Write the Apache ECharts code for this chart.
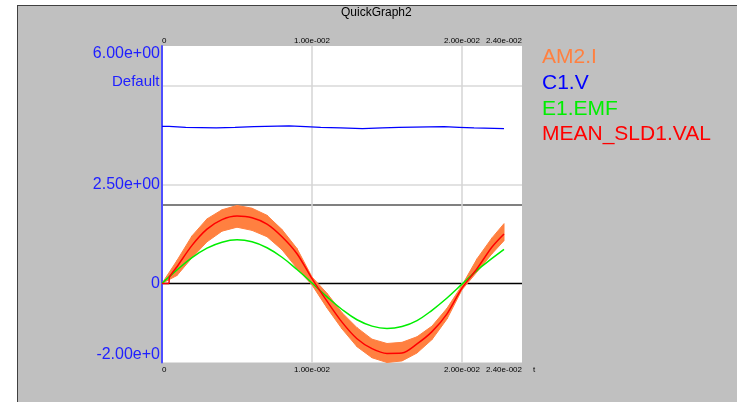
<!DOCTYPE html>
<html><head><meta charset="utf-8">
<script src="https://cdn.jsdelivr.net/npm/echarts@6/dist/echarts.min.js"></script>
<style>
html,body{margin:0;padding:0;background:#fff;}
#panel{position:absolute;left:17px;top:5px;width:720px;height:397px;background:#c0c0c0;border-top:1px solid #404040;border-left:1px solid #404040;box-sizing:border-box;}
#c{position:absolute;left:0;top:0;width:737px;height:402px;}
</style>
</head><body>
<div id="panel"></div>
<div id="c"></div>
<script>
// ---- data ----
const titleText = 'QuickGraph2';
const seriesNames = ['AM2.I', 'C1.V', 'E1.EMF', 'MEAN_SLD1.VAL'];
const times = [0,0.001,0.002,0.003,0.004,0.005,0.006,0.007,0.008,0.009,0.010,0.011,0.012,0.013,0.014,0.015,0.016,0.017,0.018,0.019,0.020,0.021,0.022,0.0228];
const am2Upper = [0,58,120,163,186,197,190,172,136,88,16,-25,-74,-112,-141,-152,-149,-135,-108,-63,-5,62,115,151];
const am2Lower = [0,20,65,105,132,142,134,118,85,38,-4,-62,-115,-160,-188,-200,-196,-176,-142,-90,-16,29,75,108];
const e1Emf = [0,34,65,89,104,110,105,90,66,35,1,-34,-66,-92,-108,-114,-109,-94,-68,-37,-2,33,63,86];
const sldTimes = [0,0.00045,0.0005,0.001,0.002,0.003,0.004,0.005,0.006,0.007,0.008,0.009,0.010,0.011,0.012,0.013,0.014,0.015,0.016,0.017,0.018,0.019,0.020,0.021,0.022,0.0228];
const meanSld1 = [0,0,16,42,96,137,161,170,166,150,118,75,12,-45,-98,-140,-165,-177,-176,-153,-122,-77,-12,37,92,125];
const c1vTimes = [0,0.00047,0.00158,0.00362,0.00487,0.00613,0.00847,0.00958,0.01058,0.01191,0.01336,0.01469,0.0158,0.0188,0.0198,0.0208,0.0228];
const c1vValues = [397,394.5,392.9,394.5,396.2,397.9,396.2,394.5,392.9,391.2,392.9,394.5,396.2,394.5,392.9,391.2,391.2];
const yLabelMid = [250, 0];
const yLabelTop = [600];
const yLabelBottom = [-200];
const yLightGrid = [250, 500];
const yZeroLine = [0];
const yDarkLine = [200];
const xMin = 0, xMax = 0.024, xStep = 0.01;
const yMin = -200, yMax = 600, yStep = 50;
const axisName = 't';
const defaultLabel = 'Default';

// ---- styles ----
const colors = {am2: '#ff8040', c1v: '#0000ff', emf: '#00ee00', sld: '#ff0000'};
const legendColors = ['#ff8040', '#0000ff', '#00ee00', '#ff0000'];
const labelBlue = '#2020ff';
const FONT = "'Liberation Sans', Arial, sans-serif";

function sci(v) {
  if (Math.abs(v) < 1e-12) return '0';
  const s = v.toExponential(2);
  const parts = s.split('e');
  const n = parseInt(parts[1], 10);
  return parts[0] + 'e' + (n < 0 ? '-' : '+') + String(Math.abs(n)).padStart(3, '0');
}

const yTicks = [];
for (let v = yMin; v <= yMax + 1e-9; v += yStep) yTicks.push(v);
const T = 'rgba(0,0,0,0)';
const lineColors = (vals, c) => yTicks.map(v => vals.indexOf(v) >= 0 ? c : T);

const yBase = {
  type: 'value', min: yMin, max: yMax, interval: yStep, position: 'left',
  axisTick: {show: false}, axisLine: {show: false, onZero: false}, splitLine: {show: false}
};
const yLab = {
  color: labelBlue, fontSize: 16, fontFamily: FONT, margin: 2,
  width: 73, overflow: 'truncate', ellipsis: ''
};
const xLab = {
  color: '#000', fontSize: 8, fontFamily: FONT, formatter: sci,
  alignMinLabel: 'left', alignMaxLabel: 'right'
};

// band segments: [t0, upper0, lower0, t1, upper1, lower1]
const bandData = times.slice(0, -1).map((t, i) =>
  [t, am2Upper[i], am2Lower[i], times[i + 1], am2Upper[i + 1], am2Lower[i + 1]]);

const chart = echarts.init(document.getElementById('c'), null, {renderer: 'canvas'});
chart.setOption({
  animation: false,
  title: {
    text: titleText, left: 341, top: 7, padding: 0,
    textStyle: {fontSize: 12, fontWeight: 'normal', color: '#000', fontFamily: FONT}
  },
  legend: {
    orient: 'vertical', left: 536, top: 44.5, padding: 0, itemGap: 0,
    itemWidth: 0, itemHeight: 0, selectedMode: false,
    itemStyle: {opacity: 0}, lineStyle: {opacity: 0},
    textStyle: {fontSize: 21, fontFamily: FONT, lineHeight: 25.7},
    data: seriesNames.map((n, i) => ({name: n, textStyle: {color: legendColors[i]}}))
  },
  grid: {
    left: 162, right: 215, top: 46, bottom: 39.5,
    show: true, backgroundColor: '#ffffff', borderWidth: 0
  },
  graphic: [{
    type: 'text', x: 159.5, y: 81.7,
    style: {text: defaultLabel, align: 'right', verticalAlign: 'middle', fill: labelBlue, font: "15px 'Liberation Sans', Arial"}
  }],
  xAxis: [
    {
      type: 'value', position: 'bottom', min: xMin, max: xMax, interval: xStep,
      axisLine: {show: false, onZero: false}, axisTick: {show: false},
      axisLabel: Object.assign({}, xLab, {margin: 3}),
      splitLine: {show: true, lineStyle: {color: [T, '#d4d4d4', '#d4d4d4', T], width: 1.5}},
      name: axisName, nameLocation: 'end', nameGap: 11,
      nameTextStyle: {fontSize: 8, color: '#000', fontFamily: FONT, verticalAlign: 'top', padding: [3, 0, 0, 0]}
    },
    {
      type: 'value', position: 'top', min: xMin, max: xMax, interval: xStep,
      axisLine: {show: false, onZero: false}, axisTick: {show: false},
      axisLabel: Object.assign({}, xLab, {margin: 1}),
      splitLine: {show: false}
    }
  ],
  yAxis: [
    Object.assign({}, yBase, {
      axisLine: {show: true, onZero: false, lineStyle: {color: '#4d4dff', width: 2}},
      axisLabel: Object.assign({}, yLab, {verticalAlign: 'middle', formatter: v => yLabelMid.indexOf(v) >= 0 ? sci(v) : ''}),
      splitLine: {show: true, lineStyle: {color: lineColors(yLightGrid, '#d9d9d9'), width: 1.5}}
    }),
    Object.assign({}, yBase, {
      axisLabel: Object.assign({}, yLab, {verticalAlign: 'top', formatter: v => yLabelTop.indexOf(v) >= 0 ? sci(v) : ''})
    }),
    Object.assign({}, yBase, {
      axisLabel: Object.assign({}, yLab, {verticalAlign: 'bottom', formatter: v => yLabelBottom.indexOf(v) >= 0 ? sci(v) : ''})
    }),
    Object.assign({}, yBase, {
      axisLabel: {show: false},
      splitLine: {show: true, lineStyle: {color: lineColors(yZeroLine, '#000000'), width: 1.3}}
    }),
    Object.assign({}, yBase, {
      axisLabel: {show: false},
      splitLine: {show: true, lineStyle: {color: lineColors(yDarkLine, '#808080'), width: 2}}
    })
  ],
  series: [
    {
      name: seriesNames[0], type: 'custom', silent: true,
      data: bandData,
      encode: {x: [0, 3], y: [1, 2, 4, 5]},
      itemStyle: {color: colors.am2},
      renderItem: function (params, api) {
        const p1 = api.coord([api.value(0), api.value(1)]);
        const p2 = api.coord([api.value(3), api.value(4)]);
        const p3 = api.coord([api.value(3), api.value(5)]);
        const p4 = api.coord([api.value(0), api.value(2)]);
        return {
          type: 'polygon',
          shape: {points: [p1, p2, p3, p4]},
          style: {fill: colors.am2, stroke: colors.am2, lineWidth: 1}
        };
      }
    },
    {
      name: seriesNames[1], type: 'line', step: 'end',
      data: c1vTimes.map((t, i) => [t, c1vValues[i]]),
      symbol: 'none', silent: true,
      lineStyle: {width: 1.3, color: colors.c1v}, itemStyle: {color: colors.c1v}
    },
    {
      name: seriesNames[2], type: 'line',
      data: times.map((t, i) => [t, e1Emf[i]]),
      symbol: 'none', smooth: 0.4, silent: true,
      lineStyle: {width: 1.5, color: colors.emf}, itemStyle: {color: colors.emf}
    },
    {
      name: seriesNames[3], type: 'line',
      data: sldTimes.map((t, i) => [t, meanSld1[i]]),
      symbol: 'none', smooth: 0.3, silent: true,
      lineStyle: {width: 1.5, color: colors.sld}, itemStyle: {color: colors.sld}
    }
  ]
});
</script>
</body></html>
